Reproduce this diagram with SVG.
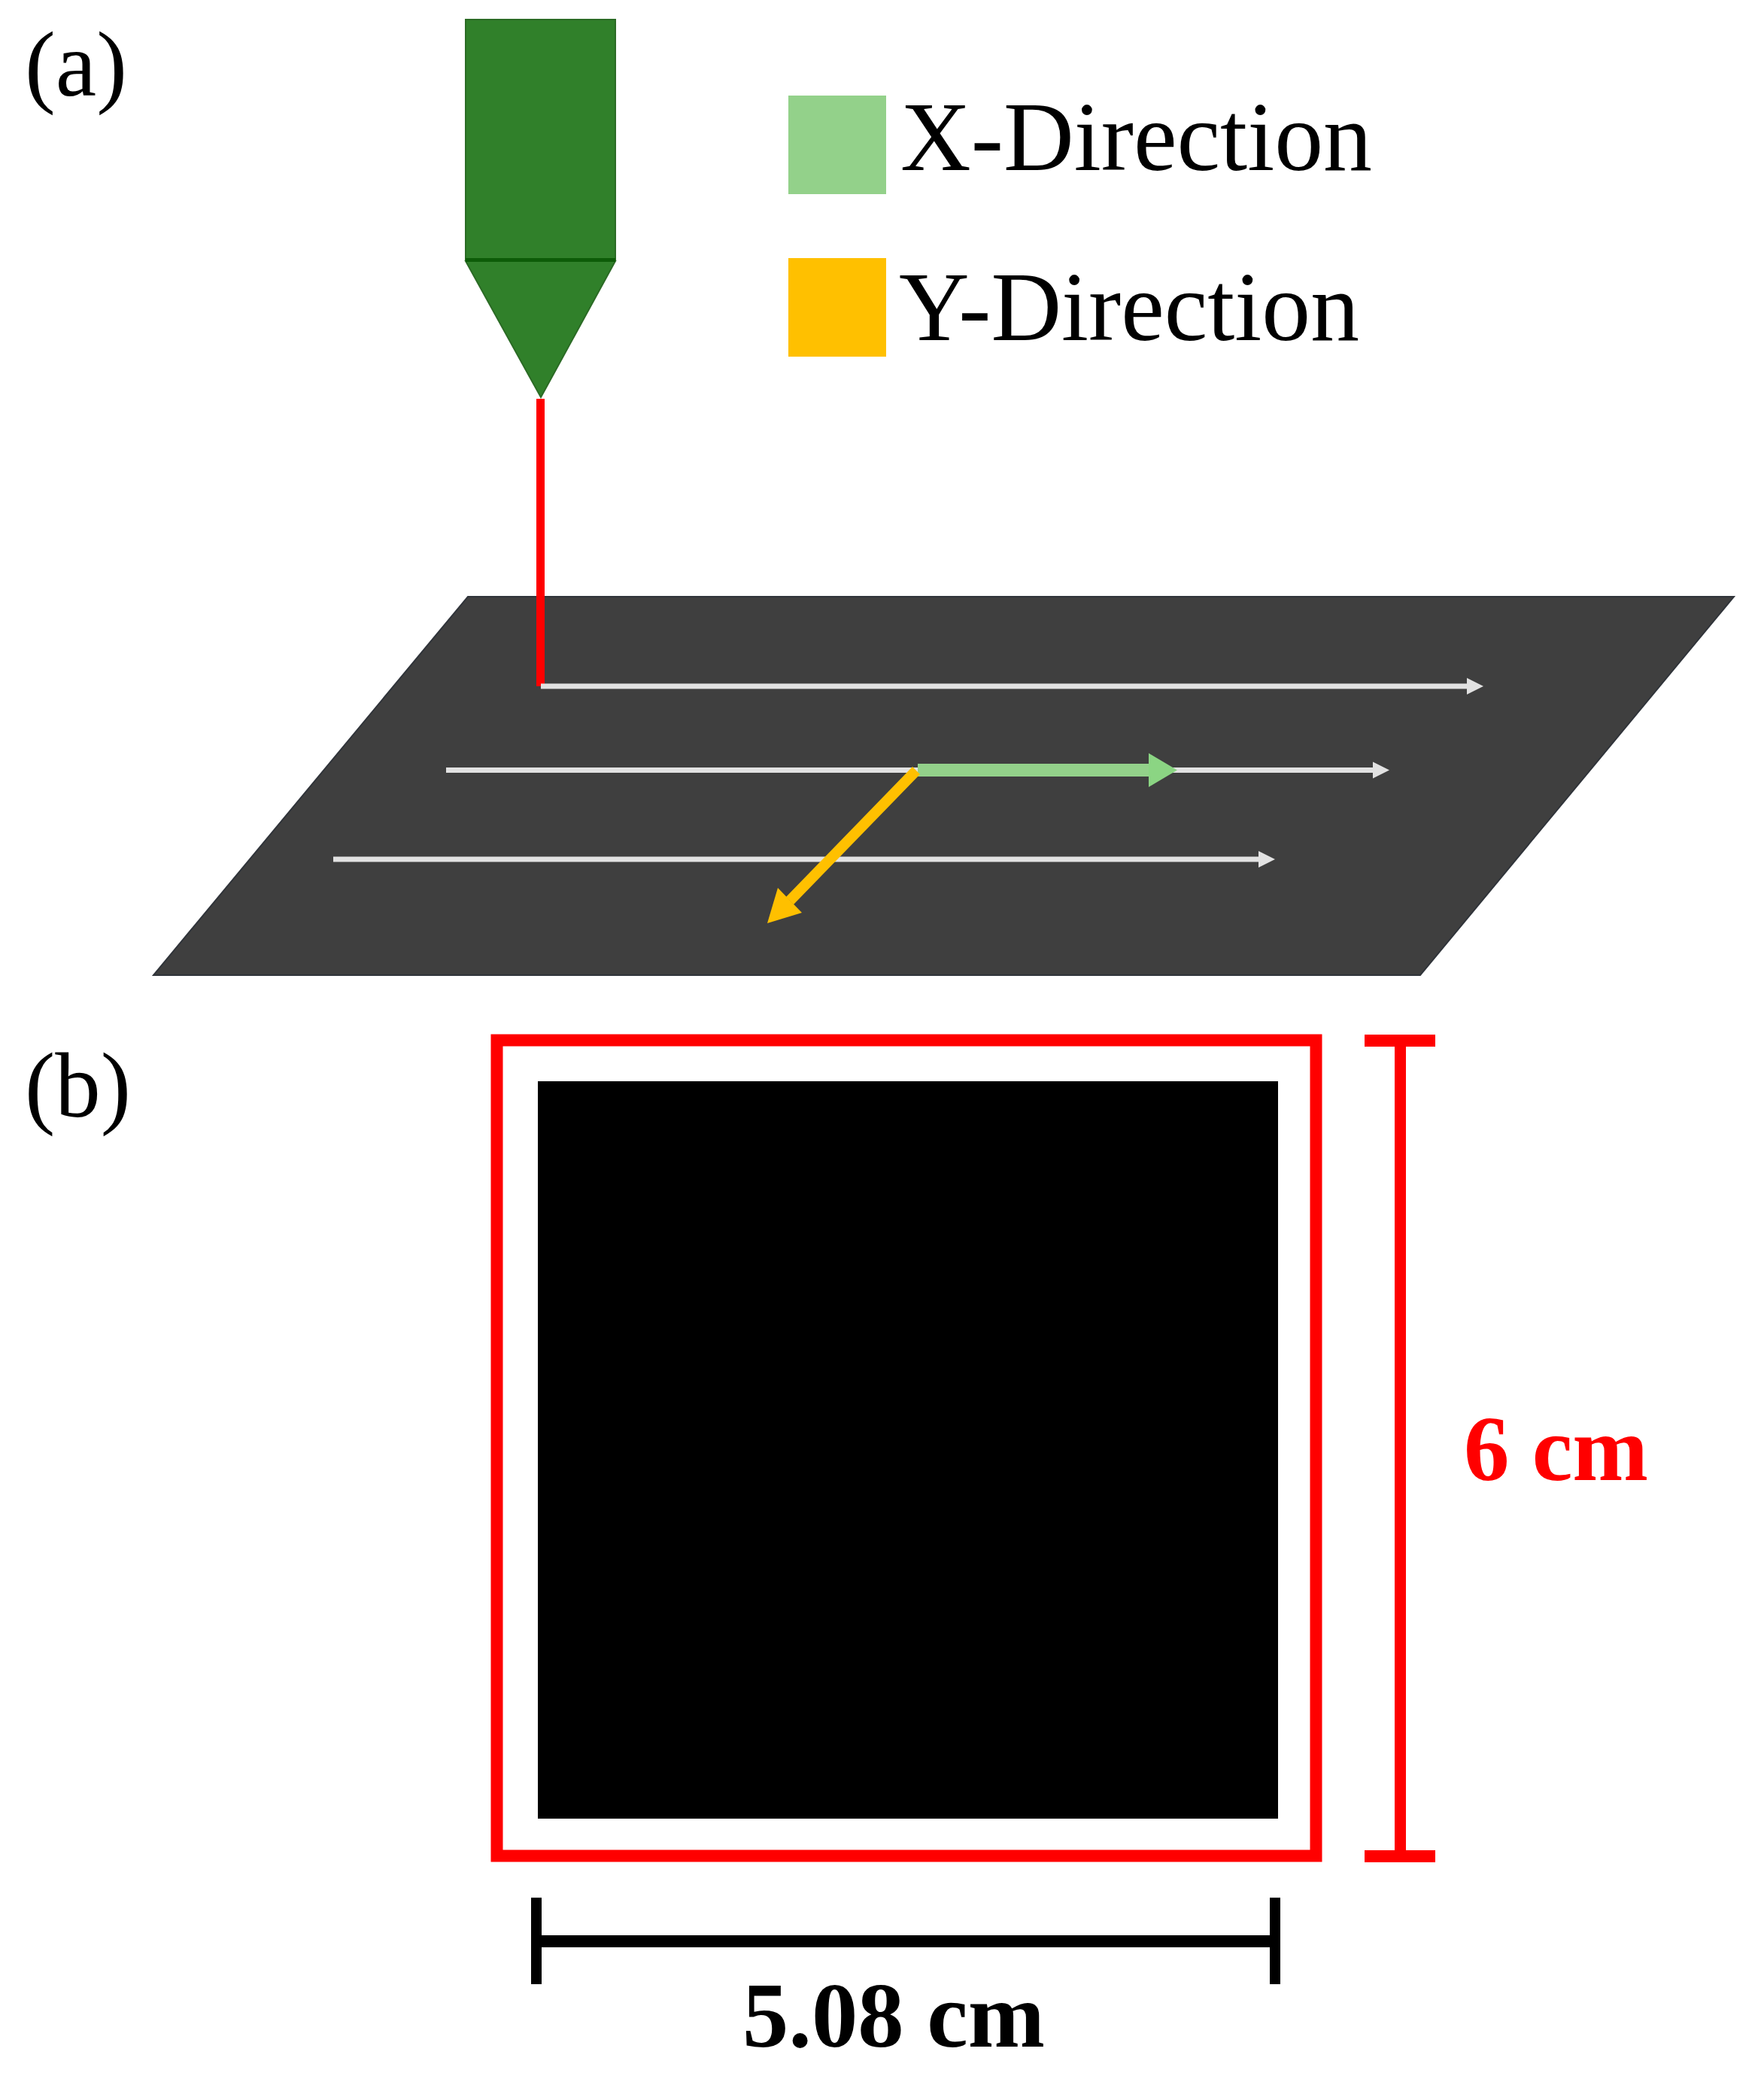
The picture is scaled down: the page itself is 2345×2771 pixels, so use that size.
<svg xmlns="http://www.w3.org/2000/svg" width="2345" height="2771" viewBox="0 0 2345 2771">
<style>
text{font-family:"Liberation Serif","Times New Roman",serif;fill:#000}
.b{font-weight:700}
.path{stroke:#e2e2e2;stroke-width:7;fill:none;marker-end:url(#wh)}
.green{fill:#30802a;stroke:#2b6b25;stroke-width:2}
.red{fill:#f00}
.blk{fill:#000}
</style>
<defs>
<marker id="wh" markerUnits="userSpaceOnUse" markerWidth="24" markerHeight="24" refX="2" refY="12" orient="auto"><path d="M2 1L24 12L2 23Z" fill="#e2e2e2"/></marker>
</defs>
<rect width="2345" height="2771" fill="#fff"/>
<g id="label-a"><text x="33" y="127" font-size="122" textLength="136" lengthAdjust="spacingAndGlyphs">(a)</text></g>
<g id="label-b"><text x="33" y="1484" font-size="122" textLength="141" lengthAdjust="spacingAndGlyphs">(b)</text></g>
<g id="nozzle">
<rect class="green" x="619" y="26" width="199" height="319"/>
<path class="green" d="M619 347H818L719 528Z"/>
<path d="M619 345.500H818" stroke="#0d5c08" stroke-width="5"/>
</g>
<g id="legend-x">
<rect x="1048" y="127" width="130" height="131" fill="#93d18a"/>
<text x="1197" y="226" font-size="132" textLength="627" lengthAdjust="spacingAndGlyphs">X-Direction</text>
</g>
<g id="legend-y">
<rect x="1048" y="343" width="130" height="131" fill="#ffc000"/>
<text x="1195" y="452" font-size="132" textLength="612" lengthAdjust="spacingAndGlyphs">Y-Direction</text>
</g>
<g id="plate"><path d="M622 793H2305L1888 1296H204Z" fill="#3f3f3f" stroke="#30343a" stroke-width="2"/></g>
<g id="connectors">
<path d="M718.500 530V912" stroke="#f00" stroke-width="11" fill="none"/>
<path class="path" d="M719 912H1950"/>
<path class="path" d="M593 1023.500H1825"/>
<path class="path" d="M443 1142H1673"/>
<path d="M1220 1023.500H1528" stroke="#93d18a" stroke-width="17" fill="none"/>
<path d="M1527 1001L1565 1023.500L1527 1046Z" fill="#8bd583"/>
<path d="M1218 1024L1050 1197" stroke="#ffc000" stroke-width="14" fill="none"/>
<path d="M1020 1227L1034 1180L1066 1213Z" fill="#ffc000"/>
</g>
<g id="specimen">
<rect x="660.500" y="1382.500" width="1089" height="1084" fill="none" stroke="#f00" stroke-width="16"/>
<rect class="blk" x="715" y="1437" width="984" height="980"/>
</g>
<g id="dim-height">
<rect class="red" x="1814" y="1375" width="94" height="16"/>
<rect class="red" x="1854" y="1375" width="15" height="1100"/>
<rect class="red" x="1814" y="2459" width="94" height="16"/>
<text class="b" x="1946" y="1967" font-size="122" textLength="245" lengthAdjust="spacingAndGlyphs" style="fill:#f00">6 cm</text>
</g>
<g id="dim-width">
<rect class="blk" x="706" y="2522" width="14" height="115"/>
<rect class="blk" x="1688" y="2522" width="14" height="115"/>
<rect class="blk" x="715" y="2572" width="980" height="16"/>
<text class="b" x="987" y="2720" font-size="122" textLength="402" lengthAdjust="spacingAndGlyphs">5.08 cm</text>
</g>
</svg>
